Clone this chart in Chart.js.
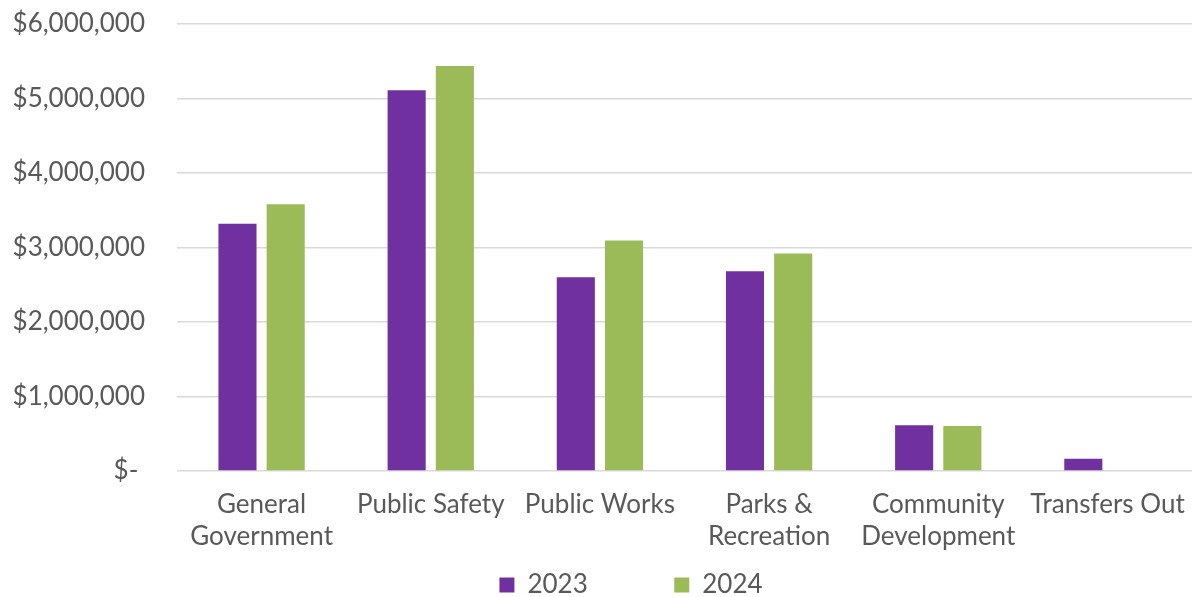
<!DOCTYPE html>
<html>
<head>
<meta charset="utf-8">
<script src="https://cdn.jsdelivr.net/npm/chart.js@4"></script>
<style>
  html, body { margin: 0; padding: 0; background: #fff; }
  #wrap { width: 1192px; height: 597px; }
</style>
</head>
<body>
<div id="wrap"><canvas id="spendChart"></canvas></div>
<script>
// department spending by year
const departments = [
    ['General', 'Government'],
    'Public Safety',
    'Public Works',
    ['Parks &', 'Recreation'],
    ['Community', 'Development'],
    'Transfers Out'
];
const years = ['2023', '2024'];
const spend2023 = [3320000, 5110000, 2600000, 2680000, 615000, 165000];
const spend2024 = [3580000, 5435000, 3095000, 2920000, 605000, null];
const yTicks = [0, 1000000, 2000000, 3000000, 4000000, 5000000, 6000000];

const textColor = '#595959';
const fontFamily = 'Lato, "Open Sans", sans-serif';

// nudge the bottom legend a bit to the right of the canvas centre
const legendShift = {
    id: 'legendShift',
    afterLayout(chart) {
        const lg = chart.legend;
        if (!lg) return;
        lg.left += 35;
        lg.right += 35;
    }
};

const ctx = document.getElementById('spendChart').getContext('2d');
new Chart(ctx, {
    type: 'bar',
    data: {
        labels: departments,
        datasets: [
            {
                label: years[0],
                data: spend2023,
                backgroundColor: '#7030A0',
                barPercentage: 0.79,
                categoryPercentage: 0.57,
            },
            {
                label: years[1],
                data: spend2024,
                backgroundColor: '#9BBB59',
                barPercentage: 0.79,
                categoryPercentage: 0.57,
            },
        ],
    },
    options: {
        responsive: true,
        maintainAspectRatio: false,
        animation: false,
        layout: {
            padding: { top: 24, left: 0, right: 0, bottom: -11 },
        },
        plugins: {
            tooltip: { enabled: false },
            legend: {
                position: 'bottom',
                labels: {
                    color: textColor,
                    font: { family: fontFamily, size: 26 },
                    boxWidth: 15,
                    boxHeight: 15,
                    padding: 0,
                    // wide gap between the two years
                    generateLabels(chart) {
                        const items = Chart.defaults.plugins.legend.labels.generateLabels(chart);
                        items.forEach((it, i) => {
                            if (i < items.length - 1) it.text += ' '.repeat(13);
                        });
                        return items;
                    },
                },
            },
        },
        scales: {
            x: {
                grid: { display: false },
                border: { display: false },
                afterFit(scale) {
                    scale.height += 9;
                    scale.paddingRight = 0;
                },
                ticks: {
                    color: textColor,
                    font: { family: fontFamily, size: 26, lineHeight: 1.23 },
                    padding: 10,
                    maxRotation: 0,
                    autoSkip: false,
                },
            },
            y: {
                min: 0,
                max: 6000000,
                afterFit(scale) {
                    scale.width = 177;
                    // the wide label gap should not push the plot down
                    scale.paddingTop = 0;
                    scale.paddingBottom = 0;
                },
                afterBuildTicks(scale) { scale.ticks = yTicks.map(v => ({ value: v })); },
                grid: { color: '#d9d9d9', lineWidth: 1.5, drawTicks: false },
                border: { display: false },
                ticks: {
                    color: textColor,
                    font: { family: fontFamily, size: 26 },
                    padding: 32,
                    callback: v => v === 0 ? '$- ' : '$' + v.toLocaleString('en-US'),
                },
            },
        },
    },
    plugins: [legendShift],
});
</script>
</body>
</html>
